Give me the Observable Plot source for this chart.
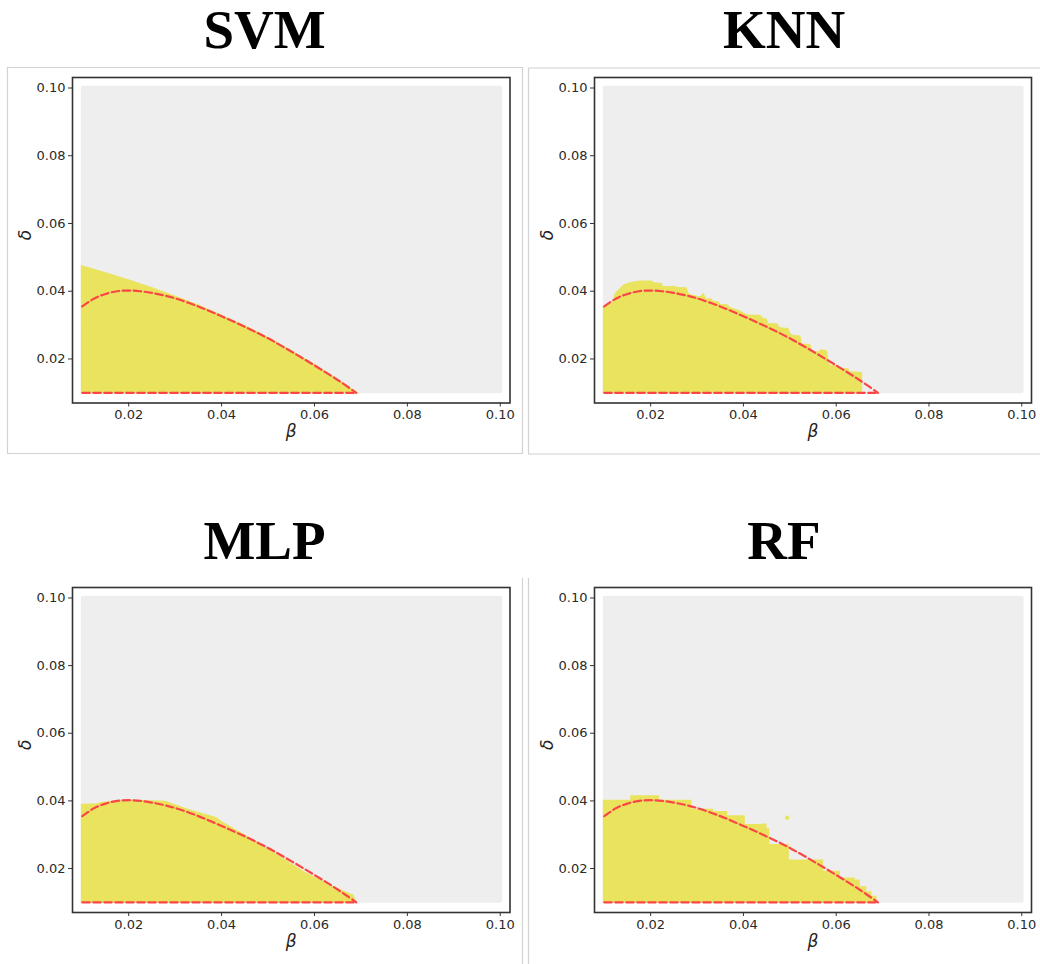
<!DOCTYPE html>
<html><head><meta charset="utf-8">
<script src="https://cdn.jsdelivr.net/npm/d3@7"></script>
<script src="https://cdn.jsdelivr.net/npm/@observablehq/plot@0.6"></script>
<style>
html,body{margin:0;padding:0;background:#fff;overflow:hidden}
#page{position:relative;width:1040px;height:964px;overflow:hidden}
#page > svg, #page > div{position:absolute}
#page > svg{overflow:visible}
</style></head><body><div id="page"></div>
<script>
// ---------- data ----------
const models = ["SVM", "KNN", "MLP", "RF"];
const tickValues = [0.02, 0.04, 0.06, 0.08, 0.10];
const betaDomain = [0.0079, 0.1021];
const deltaDomain = [0.0070, 0.1031];
// extent of the classified (grey) grid
const gridBeta = [0.0098, 0.1005];
const gridDelta = [0.0097, 0.1005];
const yellowBase = 0.0097;

// theoretical boundary (red dashed)
const boundaryCurve = [
  [0.0100, 0.0355], [0.0125, 0.0378], [0.0150, 0.0392], [0.0175, 0.0400],
  [0.0200, 0.0402], [0.0225, 0.0400], [0.0250, 0.0395], [0.0275, 0.0388],
  [0.0300, 0.0379], [0.0350, 0.0355], [0.0400, 0.0326], [0.0450, 0.0295],
  [0.0500, 0.0261], [0.0550, 0.0222], [0.0600, 0.0181], [0.0650, 0.0138],
  [0.0690, 0.0100]
];
const lowerBoundary = [[0.0100, 0.0100], [0.0690, 0.0100]];

// predicted region upper edges
const svmEdge = [
  [0.0098, 0.0476], [0.0150, 0.0455], [0.0200, 0.0434], [0.0250, 0.0411],
  [0.0300, 0.0386], [0.0350, 0.0360], [0.0400, 0.0330], [0.0450, 0.0299],
  [0.0500, 0.0265], [0.0550, 0.0226], [0.0600, 0.0185], [0.0650, 0.0141],
  [0.0697, 0.0097]
];
const knnEdge = [
  [0.0098, 0.0356], [0.0118, 0.0364], [0.0124, 0.0393], [0.0142, 0.0418],
  [0.0157, 0.0426], [0.0178, 0.0430], [0.0203, 0.0430], [0.0207, 0.0425],
  [0.0225, 0.0423], [0.0228, 0.0413], [0.0253, 0.0415], [0.0257, 0.0411],
  [0.0278, 0.0410], [0.0284, 0.0390], [0.0308, 0.0383], [0.0315, 0.0395],
  [0.0320, 0.0378], [0.0333, 0.0377], [0.0336, 0.0370], [0.0347, 0.0369],
  [0.0351, 0.0361], [0.0366, 0.0360], [0.0373, 0.0351], [0.0391, 0.0343],
  [0.0409, 0.0330], [0.0437, 0.0329], [0.0444, 0.0319], [0.0451, 0.0318],
  [0.0455, 0.0305], [0.0473, 0.0304], [0.0480, 0.0292], [0.0498, 0.0290],
  [0.0502, 0.0275], [0.0506, 0.0270], [0.0524, 0.0268], [0.0527, 0.0244],
  [0.0545, 0.0243], [0.0549, 0.0222], [0.0563, 0.0221], [0.0567, 0.0227],
  [0.0581, 0.0224], [0.0584, 0.0199], [0.0588, 0.0181], [0.0602, 0.0180],
  [0.0606, 0.0172], [0.0627, 0.0171], [0.0630, 0.0162], [0.0657, 0.0160],
  [0.0657, 0.0097]
];
const mlpEdge = [
  [0.0098, 0.0390], [0.0130, 0.0391], [0.0142, 0.0395], [0.0200, 0.0403],
  [0.0280, 0.0399], [0.0331, 0.0374], [0.0389, 0.0351], [0.0404, 0.0336],
  [0.0450, 0.0300], [0.0506, 0.0254], [0.0579, 0.0190], [0.0640, 0.0147],
  [0.0685, 0.0121], [0.0692, 0.0097]
];
// random forest: piecewise constant (step) edge
const rfEdge = [
  [0.0098, 0.0402], [0.0157, 0.0415], [0.0219, 0.0402], [0.0289, 0.0375],
  [0.0336, 0.0369], [0.0366, 0.0356], [0.0404, 0.0330], [0.0440, 0.0332],
  [0.0451, 0.0318], [0.0457, 0.0271], [0.0499, 0.0225], [0.0573, 0.0192],
  [0.0609, 0.0172], [0.0641, 0.0166], [0.0652, 0.0146], [0.0666, 0.0131],
  [0.0677, 0.0118], [0.0688, 0.0097]
];
const rfIsland = [[0.0494, 0.0350]];

const edges = {SVM: svmEdge, KNN: knnEdge, MLP: mlpEdge, RF: rfEdge};
const islands = {SVM: [], KNN: [], MLP: [], RF: rfIsland};

// ---------- styles / layout ----------
const GREY = "#eeeeee", YELLOW = "#e9e35e", RED = "#fa4646";
const layout = {
  SVM: {left: 7,   top: 67,  width: 515, height: 386, ml: 65, mr: 12.5, mt: 10, mb: 50.5, tx: 264.5, ty: 48},
  KNN: {left: 528, top: 67,  width: 512, height: 386, ml: 66, mr: 9,    mt: 10, mb: 50.5, tx: 784,   ty: 48},
  MLP: {left: 7,   top: 578, width: 515, height: 386, ml: 65, mr: 12.5, mt: 9,  mb: 52,   tx: 264.5, ty: 559},
  RF:  {left: 528, top: 578, width: 512, height: 386, ml: 66, mr: 9,    mt: 9,  mb: 52,   tx: 784,   ty: 559}
};

const page = document.getElementById("page");
const NS = "http://www.w3.org/2000/svg";

// decoration layer: titles + thin panel borders
const deco = document.createElementNS(NS, "svg");
deco.setAttribute("width", 1040); deco.setAttribute("height", 964);
deco.style.left = "0px"; deco.style.top = "0px";
function line(x1, y1, x2, y2) {
  const l = document.createElementNS(NS, "line");
  l.setAttribute("x1", x1); l.setAttribute("y1", y1);
  l.setAttribute("x2", x2); l.setAttribute("y2", y2);
  l.setAttribute("stroke", "#d2d2d2"); l.setAttribute("stroke-width", 1.2);
  deco.appendChild(l);
}
// top-left box
line(7, 67.5, 522.5, 67.5); line(7.5, 67, 7.5, 453.5); line(522.5, 67, 522.5, 453.5); line(7, 453.5, 523, 453.5);
// top-right box
line(528.5, 68, 1040, 68); line(528.5, 68, 528.5, 454); line(528, 454, 1040, 454);
// bottom separators
line(522.5, 578, 522.5, 964); line(528.5, 578, 528.5, 964);
for (const m of models) {
  const t = document.createElementNS(NS, "text");
  t.setAttribute("x", layout[m].tx); t.setAttribute("y", layout[m].ty);
  t.setAttribute("text-anchor", "middle");
  t.setAttribute("font-family", "Liberation Serif, serif");
  t.setAttribute("font-weight", "bold");
  t.setAttribute("font-size", 55);
  t.textContent = m;
  deco.appendChild(t);
}
page.appendChild(deco);

for (const m of models) {
  const L = layout[m];
  const chart = Plot.plot({
    width: L.width, height: L.height,
    marginLeft: L.ml, marginRight: L.mr, marginTop: L.mt, marginBottom: L.mb,
    style: {fontFamily: "DejaVu Sans, sans-serif", fontSize: "13px", color: "#2a2a2a", background: "transparent", overflow: "visible"},
    x: {domain: betaDomain, label: null},
    y: {domain: deltaDomain, label: null},
    marks: [
      Plot.rect([0], {x1: gridBeta[0], x2: gridBeta[1], y1: gridDelta[0], y2: gridDelta[1], fill: GREY, rx: 2}),
      Plot.areaY(edges[m], {x: d => d[0], y1: yellowBase, y2: d => d[1], fill: YELLOW,
        curve: m === "RF" ? "step-after" : "linear"}),
      Plot.dot(islands[m], {x: d => d[0], y: d => d[1], r: 2.2, fill: YELLOW}),
      Plot.line(boundaryCurve, {x: d => d[0], y: d => d[1], stroke: RED, strokeWidth: 2.2, strokeDasharray: "7.5,3.5", curve: "catmull-rom"}),
      Plot.line(lowerBoundary, {x: d => d[0], y: d => d[1], stroke: RED, strokeWidth: 2.2, strokeDasharray: "7.5,3.5"}),
      Plot.axisX({ticks: tickValues, tickFormat: d3.format(".2f"), tickSize: 4, tickPadding: 3, label: null, stroke: "#333"}),
      Plot.axisY({ticks: tickValues, tickFormat: d3.format(".2f"), tickSize: 4, tickPadding: 3, label: null, stroke: "#333"}),
      Plot.frame({stroke: "#333", strokeWidth: 1.6}),
      Plot.text(["β"], {frameAnchor: "bottom", dy: 34, fontSize: 17, fontStyle: "italic", fill: "#222"}),
      Plot.text(["δ"], {frameAnchor: "left", dx: -47, rotate: -90, fontSize: 17, fontStyle: "italic", fill: "#222"})
    ]
  });
  chart.style.left = L.left + "px";
  chart.style.top = L.top + "px";
  chart.style.position = "absolute";
  page.appendChild(chart);
}
</script></body></html>
